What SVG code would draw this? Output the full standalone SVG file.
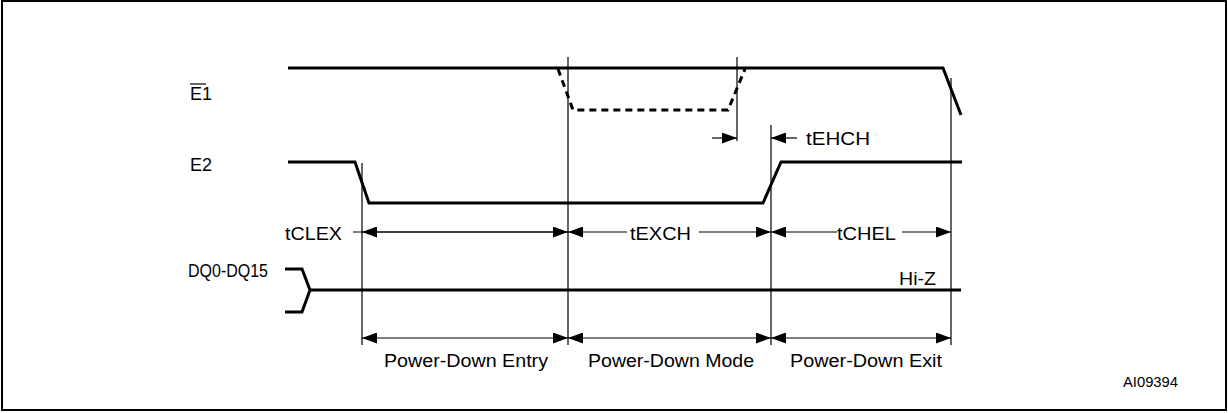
<svg xmlns="http://www.w3.org/2000/svg" width="1228" height="413" viewBox="0 0 1228 413">
<style>
  text { font-family: "Liberation Sans", Arial, sans-serif; font-size: 18px; fill: #000; }
  .sig { fill: none; stroke: #000; stroke-width: 3; stroke-linejoin: miter; }
  .dash { fill: none; stroke: #000; stroke-width: 3; stroke-dasharray: 7 5; }
  .thin { fill: none; stroke: #000; stroke-width: 1.2; }
  .frame { fill: none; stroke: #000; stroke-width: 2; }
</style>
<defs>
  <marker id="ah" viewBox="0 0 15 11" refX="15" refY="5.5" markerWidth="15" markerHeight="11" markerUnits="userSpaceOnUse" orient="auto-start-reverse">
    <path d="M0,0 L15,5.5 L0,11 Z" fill="#000"/>
  </marker>
</defs>
<rect class="frame" x="2" y="1" width="1224" height="409"/>

<g id="signal-E1">
  <text x="190" y="100">E1</text>
  <line x1="190" y1="84" x2="206" y2="84" stroke="#000" stroke-width="1.2"/>
  <polyline class="sig" points="288,68 943,68 961,115"/>
  <polyline class="dash" points="558,69 573,110 728,110 745,69"/>
</g>

<g id="signal-E2">
  <text x="190" y="171">E2</text>
  <polyline class="sig" points="288,162 355,162 369,203 763,203 781,162 962,162"/>
</g>

<g id="signal-DQ">
  <text x="188" y="277" textLength="80" lengthAdjust="spacingAndGlyphs">DQ0-DQ15</text>
  <polyline class="sig" points="285,269 302,269 310,290 302,312 285,312"/>
  <line class="sig" x1="310" y1="290" x2="961" y2="290"/>
  <text x="899" y="285" textLength="37" lengthAdjust="spacingAndGlyphs">Hi-Z</text>
</g>

<g id="connectors">
  <line class="thin" x1="362" y1="163" x2="362" y2="345"/>
  <line class="thin" x1="568" y1="57" x2="568" y2="345"/>
  <line class="thin" x1="737" y1="57" x2="737" y2="141"/>
  <line class="thin" x1="771" y1="125" x2="771" y2="345"/>
  <line class="thin" x1="951" y1="78" x2="951" y2="345"/>

  <line class="thin" x1="712" y1="138" x2="737" y2="138" marker-end="url(#ah)"/>
  <line class="thin" x1="797" y1="138" x2="771" y2="138" marker-end="url(#ah)"/>

  <line class="thin" x1="353" y1="232" x2="568" y2="232" marker-end="url(#ah)"/>
  <line class="thin" x1="568" y1="232" x2="362" y2="232" marker-end="url(#ah)"/>
  <line class="thin" x1="627" y1="232" x2="568" y2="232" marker-end="url(#ah)"/>
  <line class="thin" x1="699" y1="232" x2="771" y2="232" marker-end="url(#ah)"/>
  <line class="thin" x1="837" y1="232" x2="771" y2="232" marker-end="url(#ah)"/>
  <line class="thin" x1="902" y1="232" x2="951" y2="232" marker-end="url(#ah)"/>

  <line class="thin" x1="362" y1="338" x2="568" y2="338" marker-start="url(#ah)" marker-end="url(#ah)"/>
  <line class="thin" x1="568" y1="338" x2="771" y2="338" marker-start="url(#ah)" marker-end="url(#ah)"/>
  <line class="thin" x1="771" y1="338" x2="951" y2="338" marker-start="url(#ah)" marker-end="url(#ah)"/>
</g>

<g id="labels">
  <text x="285" y="240" textLength="57" lengthAdjust="spacingAndGlyphs">tCLEX</text>
  <text x="630" y="240" textLength="61" lengthAdjust="spacingAndGlyphs">tEXCH</text>
  <text x="837" y="240" textLength="59" lengthAdjust="spacingAndGlyphs">tCHEL</text>
  <text x="806" y="145" textLength="64" lengthAdjust="spacingAndGlyphs">tEHCH</text>
  <text x="384" y="367" textLength="164" lengthAdjust="spacingAndGlyphs">Power-Down Entry</text>
  <text x="588" y="367" textLength="166" lengthAdjust="spacingAndGlyphs">Power-Down Mode</text>
  <text x="790" y="367" textLength="152" lengthAdjust="spacingAndGlyphs">Power-Down Exit</text>
  <text x="1123" y="387" style="font-size:14px" textLength="55" lengthAdjust="spacingAndGlyphs">AI09394</text>
</g>
</svg>
